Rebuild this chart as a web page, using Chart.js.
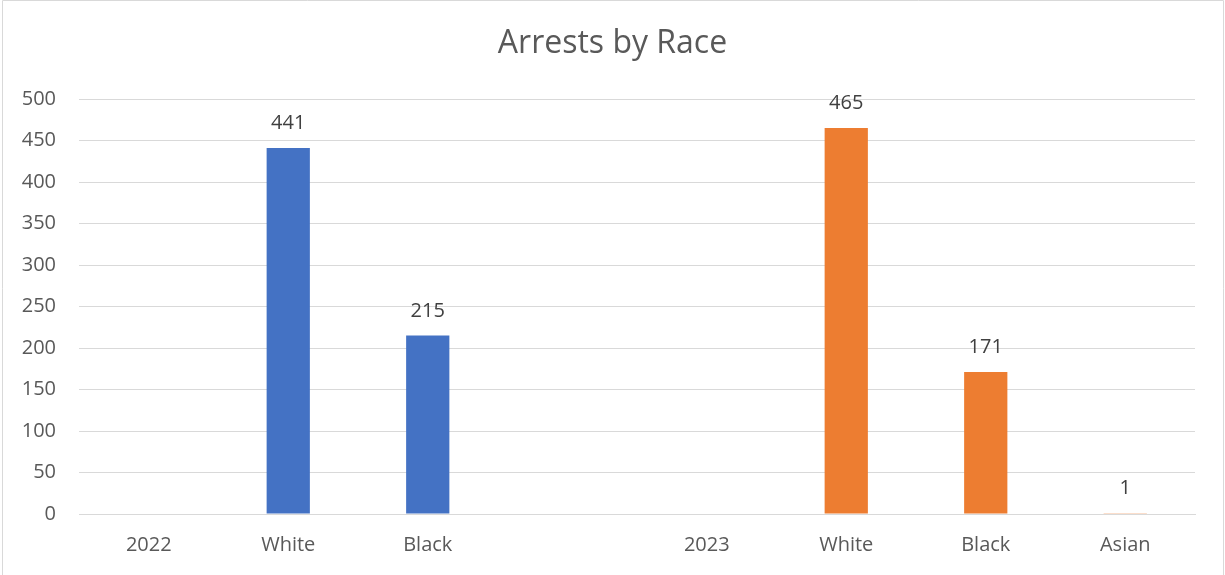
<!DOCTYPE html>
<html>
<head>
<meta charset="utf-8">
<script src="https://cdn.jsdelivr.net/npm/chart.js@4.4.1/dist/chart.umd.min.js"></script>
<style>
  html, body { margin: 0; padding: 0; background: #ffffff; }
  #wrap { position: relative; width: 1225px; height: 575px; }
</style>
</head>
<body>
<div id="wrap"><canvas id="c" width="1225" height="575"></canvas></div>
<script>
const categories = ["2022", "White", "Black", "", "2023", "White", "Black", "Asian"];
const series2022 = [null, 441, 215, null, null, null, null, null];
const series2023 = [null, null, null, null, null, 465, 171, 1];
const yTicks = [0, 50, 100, 150, 200, 250, 300, 350, 400, 450, 500];
const titleText = "Arrests by Race";

const FONT = "'Open Sans', 'Noto Sans', sans-serif";

const borderPlugin = {
  id: 'border',
  afterDraw(chart) {
    const ctx = chart.ctx;
    ctx.save();
    ctx.strokeStyle = '#d9d9d9';
    ctx.lineWidth = 1;
    ctx.beginPath();
    ctx.moveTo(2.5, 580); ctx.lineTo(2.5, 0.5); ctx.lineTo(1223.5, 0.5); ctx.lineTo(1223.5, 580);
    ctx.stroke();
    ctx.restore();
  }
};

const titlePlugin = {
  id: 'centeredTitle',
  afterDraw(chart) {
    const ctx = chart.ctx;
    ctx.save();
    ctx.font = "32px " + FONT;
    ctx.fillStyle = '#595959';
    ctx.textAlign = 'center';
    ctx.textBaseline = 'middle';
    ctx.fillText(titleText, chart.width / 2, 44);
    ctx.restore();
  }
};

const labelPlugin = {
  id: 'valueLabels',
  afterDatasetsDraw(chart) {
    const ctx = chart.ctx;
    ctx.save();
    ctx.font = "20px " + FONT;
    ctx.fillStyle = '#404040';
    ctx.textAlign = 'center';
    ctx.textBaseline = 'alphabetic';
    chart.data.datasets.forEach((ds, i) => {
      const meta = chart.getDatasetMeta(i);
      meta.data.forEach((el, j) => {
        const v = ds.data[j];
        if (v === null || v === undefined) return;
        ctx.fillText(String(v), el.x, el.y - 19);
      });
    });
    ctx.restore();
  }
};

new Chart(document.getElementById('c'), {
  type: 'bar',
  data: {
    labels: categories,
    datasets: [
      { label: '2022', data: series2022, backgroundColor: '#4472C4', grouped: false,
        categoryPercentage: 1, barPercentage: 0.31 },
      { label: '2023', data: series2023, backgroundColor: '#ED7D31', grouped: false,
        categoryPercentage: 1, barPercentage: 0.31 }
    ]
  },
  options: {
    responsive: false,
    animation: false,
    layout: { padding: { left: 0, right: 30, top: 99, bottom: 0 } },
    plugins: {
      legend: { display: false },
      tooltip: { enabled: false },
      title: { display: false }
    },
    scales: {
      x: {
        grid: { display: false, drawTicks: false },
        border: { display: true, color: '#d9d9d9', width: 1 },
        ticks: { color: '#595959', font: { family: FONT, size: 20 }, padding: 19, maxRotation: 0, autoSkip: false },
        afterFit(scale) { scale.height = 61; }
      },
      y: {
        min: 0, max: 500,
        afterBuildTicks(scale) { scale.ticks = yTicks.map(v => ({ value: v })); },
        grid: { color: '#d9d9d9', lineWidth: 1, drawTicks: false },
        border: { display: false },
        ticks: { color: '#595959', font: { family: FONT, size: 20 }, padding: 23 },
        afterFit(scale) { scale.width = 79; }
      }
    }
  },
  plugins: [labelPlugin, titlePlugin, borderPlugin]
});
</script>
</body>
</html>
